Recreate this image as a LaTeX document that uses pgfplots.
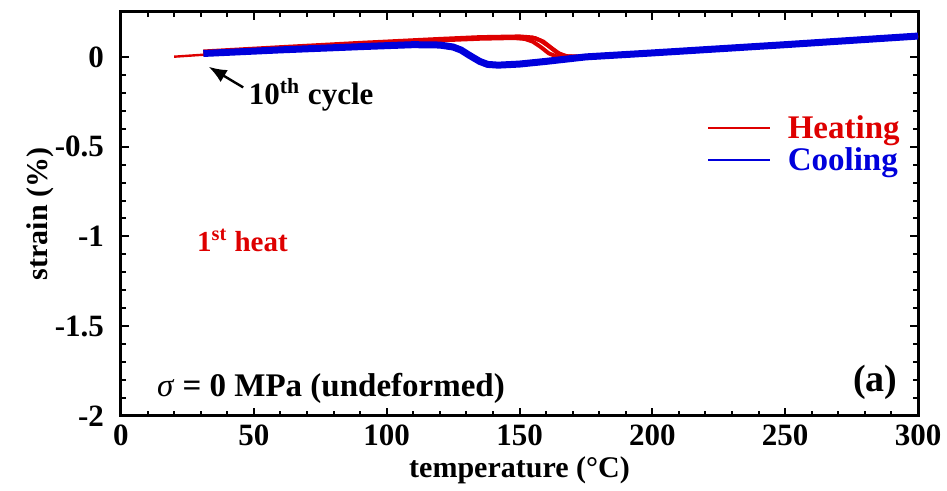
\documentclass[border=0pt]{standalone}
\usepackage{fontspec}
\setmainfont{Liberation Serif}
\usepackage{pgfplots}
\pgfplotsset{compat=1.18}
\usetikzlibrary{arrows.meta}

\definecolor{heat}{RGB}{222,0,0}
\definecolor{cool}{RGB}{0,0,220}

\begin{document}
\begin{tikzpicture}[font=\fontsize{14}{16}\selectfont\bfseries]
\begin{axis}[
    scale only axis,
    width=398.5pt, height=202pt,
    xmin=0, xmax=300, ymin=-2, ymax=0.25,
    xtick={0,50,100,150,200,250,300},
    xticklabels={0,50,100,150,200,250,300},
    ytick={-2,-1.5,-1,-0.5,0},
    yticklabels={-2,-1.5,-1,-0.5,0},
    minor x tick num=4, minor y tick num=4,
    tick align=inside,
    major tick length=4pt, minor tick length=2.5pt,
    every tick/.style={black, line width=1pt},
    axis line style={line width=1.5pt},
    tick label style={font=\fontsize{15.5}{17}\selectfont\bfseries},
    xlabel={temperature (°C)},
    ylabel={strain (\%)},
    label style={font=\fontsize{15}{17}\selectfont\bfseries},
    xlabel style={yshift=1.5pt},
    ylabel style={yshift=-6.5pt},
    xticklabel style={yshift=-1pt},
    yticklabel style={xshift=-5pt},
    legend style={draw=none, fill=none, at={(0.99,0.765)}, anchor=north east,
        row sep=-1pt, font=\fontsize{16.5}{18}\selectfont\bfseries},
    legend cell align=left,
    legend image code/.code={\draw[#1, line width=1pt] (0pt,0pt) -- (31pt,0pt);
        \path (36pt,0pt);},
]
% first heat
\addplot[heat, line width=1.2pt, forget plot] coordinates {
 (20,0.001) (25,0.006) (31,0.012) (40,0.018)
};
% heating curves (cycles)
\addplot[heat, line width=2pt] coordinates {
 (31,0.024) (60,0.046) (90,0.069) (120,0.092) (135,0.101) (148,0.105)
 (152,0.100) (155,0.085) (158,0.055) (161,0.020) (164,0.002) (170,-0.002)
 (200,0.024) (250,0.070) (300,0.118)
};
\addlegendentry{\textcolor{heat}{Heating}}
\addplot[heat, line width=2pt, forget plot] coordinates {
 (31,0.030) (60,0.054) (90,0.078) (120,0.100) (135,0.110) (150,0.114)
 (155,0.108) (158,0.090) (161,0.060) (164,0.025) (167,0.004) (172,0.002)
 (200,0.026) (250,0.072) (300,0.120)
};
\addplot[heat, line width=2pt, forget plot] coordinates {
 (31,0.026) (60,0.050) (90,0.073) (120,0.096) (135,0.106) (150,0.110)
 (156,0.104) (159,0.085) (162,0.050) (165,0.018) (168,0.003) (172,0.001)
 (200,0.025) (250,0.071) (300,0.119)
};
% cooling
\addplot[cool, line width=3.5pt] coordinates {
 (300,0.116) (250,0.068) (200,0.022) (175,0.000) (160,-0.025) (150,-0.040)
 (142,-0.046) (138,-0.042) (135,-0.025) (131,0.010) (128,0.038) (125,0.055)
 (120,0.066) (110,0.068) (90,0.057) (60,0.039) (31,0.019)
};
\addlegendentry{\textcolor{cool}{Cooling}}

\draw[-{Latex[length=9pt,width=7pt]}, line width=1.2pt]
  (axis cs:46,-0.17) -- (axis cs:33,-0.055);
\node[anchor=base west, font=\fontsize{15.5}{17}\selectfont\bfseries]
  at (axis cs:45.5,-0.263) {10\textsuperscript{th} cycle};
\node[anchor=base west, text=heat, font=\fontsize{14.5}{16}\selectfont\bfseries]
  at (axis cs:26,-1.083) {1\textsuperscript{st} heat};
\node[anchor=base west, font=\fontsize{16.5}{18}\selectfont\bfseries]
  at (axis cs:10.9,-1.89) {\textit{\mdseries σ} = 0 MPa (undeformed)};
\node[anchor=base east, font=\fontsize{19}{21}\selectfont\bfseries]
  at (axis cs:295,-1.865) {(a)};
\end{axis}
\pgfresetboundingbox
\path[use as bounding box] (-60.5pt,-37.5pt) rectangle (413pt,208pt);
\end{tikzpicture}
\end{document}
